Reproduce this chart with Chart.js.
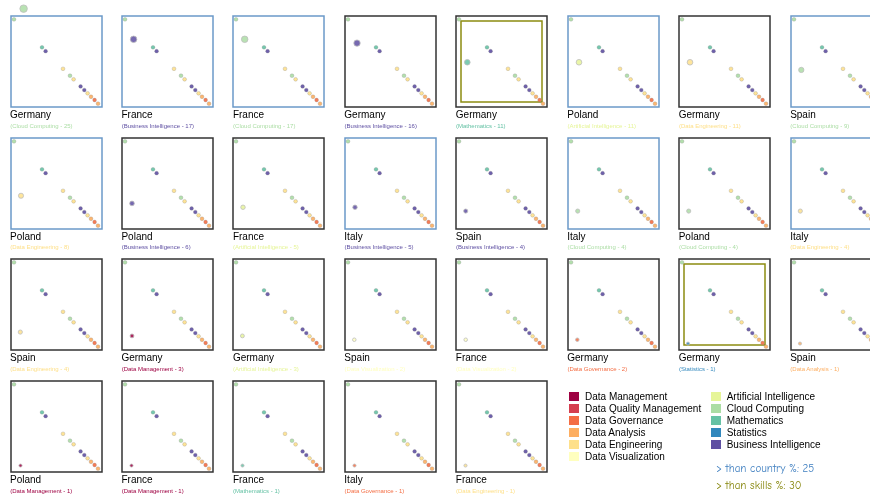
<!DOCTYPE html>
<html>
<head>
<meta charset="utf-8">
<script src="https://cdn.jsdelivr.net/npm/chart.js@4.4.1/dist/chart.umd.min.js"></script>
<style>
  body { margin: 0; background: #fff; width: 870px; height: 501px; overflow: hidden; position: relative; font-family: "Liberation Sans", Arial, Helvetica, sans-serif; }
  canvas { position: absolute; }
  .ttl { position: absolute; font-size: 10px; line-height: 10px; color: #000; white-space: nowrap; }
  .sub { position: absolute; font-size: 6px; line-height: 6px; white-space: nowrap; }
  .leg { position: absolute; font-size: 10px; }
  .row { display: flex; align-items: center; height: 12px; white-space: nowrap; }
  .sw { width: 10px; height: 9px; margin-right: 6px; }
  .note { position: absolute; font-family: "Comic Sans MS", "Comic Neue", cursive; font-size: 11px; white-space: nowrap; }
</style>
</head>
<body>
<script>
// skills and their colours
var skillNames = [
  "Data Management", "Data Quality Management", "Data Governance", "Data Analysis",
  "Data Engineering", "Data Visualization", "Artificial Intelligence", "Cloud Computing",
  "Mathematics", "Statistics", "Business Intelligence"
];
var skillColors = [
  "#9e0142", "#d53e4f", "#f46d43", "#fdae61", "#fee08b", "#ffffbf",
  "#e6f598", "#abdda4", "#66c2a5", "#3288bd", "#5e4fa2"
];

// one panel per country / skill pair
var panelCountries = [
  "Germany", "France", "France", "Germany", "Germany", "Poland", "Germany", "Spain",
  "Poland", "Poland", "France", "Italy", "Spain", "Italy", "Poland", "Italy",
  "Spain", "Germany", "Germany", "Spain", "France", "Germany", "Germany", "Spain",
  "Poland", "France", "France", "Italy", "France"
];
var panelSkills = [
  "Cloud Computing", "Business Intelligence", "Cloud Computing", "Business Intelligence",
  "Mathematics", "Artificial Intelligence", "Data Engineering", "Cloud Computing",
  "Data Engineering", "Business Intelligence", "Artificial Intelligence", "Business Intelligence",
  "Business Intelligence", "Cloud Computing", "Cloud Computing", "Data Engineering",
  "Data Engineering", "Data Management", "Artificial Intelligence", "Data Visualization",
  "Data Visualization", "Data Governance", "Statistics", "Data Analysis",
  "Data Management", "Data Management", "Mathematics", "Data Governance", "Data Engineering"
];
var panelCounts = [25, 17, 17, 16, 11, 11, 11, 9, 8, 6, 5, 5, 4, 4, 4, 4, 4, 3, 3, 2, 2, 2, 1, 1, 1, 1, 1, 1, 1];
var panelX = [12.6, 11.6, 11.7, 12, 11.3, 11, 11, 10.3, 10, 10, 10, 10, 9.7, 9.7, 9.7, 9.3,
  9.3, 10, 9.4, 9.3, 9.7, 9.3, 9, 9, 9.5, 9.5, 9.5, 9.5, 9.5];
// > than country %: 25  and  > than skills %: 30
var overCountry = [1, 1, 1, 0, 0, 1, 0, 1, 1, 0, 0, 1, 0, 1, 0, 1, 0, 0, 0, 0, 0, 0, 0, 0, 0, 0, 0, 0, 0];
var overSkill = [0, 0, 0, 0, 1, 0, 0, 0, 0, 0, 0, 0, 0, 0, 0, 0, 0, 0, 0, 0, 0, 0, 1, 0, 0, 0, 0, 0, 0];

// the diagonal shown in every panel
var baseX = [3.0, 31.0, 34.6, 52.0, 59.0, 62.6, 69.6, 73.3, 76.6, 80.0, 83.6, 87.0];
var baseY = [22.2, 14.9, 13.9, 9.3, 7.5, 6.55, 4.7, 3.75, 2.9, 2.0, 1.15, 0.2];
var baseSkills = [
  "Cloud Computing", "Mathematics", "Business Intelligence", "Data Engineering",
  "Cloud Computing", "Data Engineering", "Business Intelligence", "Business Intelligence",
  "Data Engineering", "Data Analysis", "Data Governance", "Data Analysis"
];

function colorOf(skill) {
  return skillColors[skillNames.indexOf(skill)];
}
function rgba(hex, a) {
  var n = parseInt(hex.slice(1), 16);
  return "rgba(" + (n >> 16) + "," + ((n >> 8) & 255) + "," + (n & 255) + "," + a + ")";
}

// frame of each panel, in data units
var X0 = 0, X1 = 91, Y0 = -0.68, Y1 = 23.08;
var PX = (Y1 - Y0) / 91; // y units per pixel

var framePlugin = {
  id: "frame",
  beforeDatasetsDraw: function (chart, args, opts) {
    var sx = chart.scales.x, sy = chart.scales.y, c = chart.ctx;
    var l = sx.getPixelForValue(X0), r = sx.getPixelForValue(X1);
    var t = sy.getPixelForValue(Y1), b = sy.getPixelForValue(Y0);
    c.save();
    c.lineWidth = 1.5;
    c.strokeStyle = opts.color;
    c.strokeRect(l, t, r - l, b - t);
    if (opts.inner) {
      c.strokeStyle = "#8c8c10";
      c.strokeRect(l + 5, t + 5, r - l - 10, b - t - 10);
    }
    c.restore();
  }
};

var PADL = 10, PADT = 14, PADR = 10, PADB = 6;

panelCounts.forEach(function (count, i) {
  var col = i % 8, row = Math.floor(i / 8);
  var left = 10.5 + col * 111.45, top = 16 + row * 121.7;

  var cv = document.createElement("canvas");
  cv.width = 91 + PADL + PADR;
  cv.height = 91 + PADT + PADB;
  cv.style.left = (left - PADL) + "px";
  cv.style.top = (top - PADT) + "px";
  document.body.appendChild(cv);

  var col1 = colorOf(panelSkills[i]);
  new Chart(cv.getContext("2d"), {
    type: "scatter",
    data: {
      datasets: [
        {
          data: baseX.map(function (x, k) { return { x: x, y: baseY[k] }; }),
          backgroundColor: baseSkills.map(function (s) { return rgba(colorOf(s), 0.9); }),
          borderColor: "rgba(130,130,130,0.45)",
          borderWidth: 0.6,
          pointRadius: 1.9,
          clip: false
        },
        {
          data: [{ x: panelX[i], y: count }],
          backgroundColor: rgba(col1, 0.85),
          borderColor: "rgba(190,190,190,0.8)",
          borderWidth: 1,
          pointRadius: 1 + Math.sqrt(count) * 0.55,
          clip: false
        }
      ]
    },
    options: {
      responsive: false,
      animation: false,
      events: [],
      layout: { autoPadding: false, padding: 0 },
      scales: {
        x: { type: "linear", display: false, min: X0 - PADL, max: X1 + PADR },
        y: { type: "linear", display: false, min: Y0 - PADB * PX, max: Y1 + PADT * PX }
      },
      plugins: {
        legend: { display: false },
        tooltip: { enabled: false },
        frame: {
          color: overCountry[i] ? "rgba(80,135,190,0.85)" : "#333",
          inner: !!overSkill[i]
        }
      }
    },
    plugins: [framePlugin]
  });

  var t = document.createElement("div");
  t.className = "ttl";
  t.style.left = (left - 0.5) + "px";
  t.style.top = (top + 94) + "px";
  t.textContent = panelCountries[i];
  document.body.appendChild(t);

  var s = document.createElement("div");
  s.className = "sub";
  s.style.left = (left - 0.3) + "px";
  s.style.top = (top + 106.6) + "px";
  s.style.color = col1;
  s.textContent = "(" + panelSkills[i] + " - " + count + ")";
  document.body.appendChild(s);
});

// legend
[[0, 6, 569], [6, 11, 710.7]].forEach(function (g) {
  var box = document.createElement("div");
  box.className = "leg";
  box.style.left = g[2] + "px";
  box.style.top = "390.8px";
  for (var k = g[0]; k < g[1]; k++) {
    var r = document.createElement("div");
    r.className = "row";
    var sw = document.createElement("div");
    sw.className = "sw";
    sw.style.background = skillColors[k];
    var tx = document.createElement("span");
    tx.textContent = skillNames[k];
    r.appendChild(sw);
    r.appendChild(tx);
    box.appendChild(r);
  }
  document.body.appendChild(box);
});

var n1 = document.createElement("div");
n1.className = "note";
n1.style.left = "716px";
n1.style.top = "462px";
n1.style.color = "#3f7fc0";
n1.textContent = "> than country %: 25";
document.body.appendChild(n1);

var n2 = document.createElement("div");
n2.className = "note";
n2.style.left = "716px";
n2.style.top = "478.5px";
n2.style.color = "#85850a";
n2.textContent = "> than skills %: 30";
document.body.appendChild(n2);
</script>
</body>
</html>
